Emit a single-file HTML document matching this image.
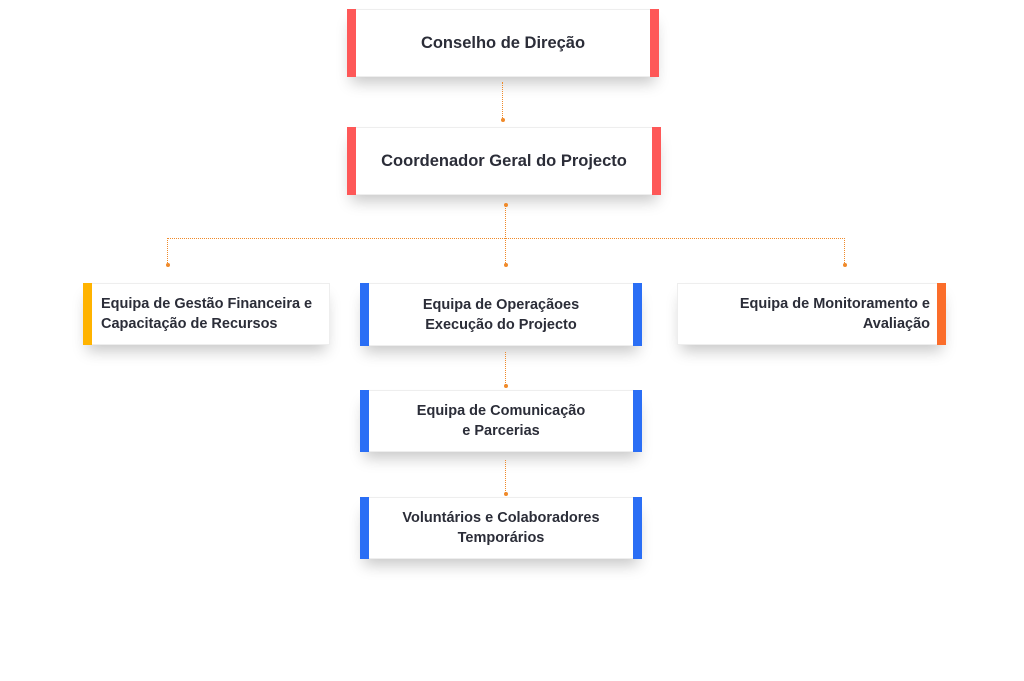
<!DOCTYPE html>
<html><head><meta charset="utf-8"><style>
body{margin:0;width:1024px;height:681px;background:#fff;position:relative;overflow:hidden;font-family:"Liberation Sans",sans-serif}
.b{position:absolute;background:#fff;box-shadow:0 10px 14px -4px rgba(0,0,0,0.22);border:1px solid #eee;box-sizing:border-box;display:flex;align-items:center;justify-content:center;text-align:center;color:#2b2d38;font-weight:bold;font-size:14.5px;line-height:20px}
.l,.r{position:absolute;top:-1px;bottom:-1px;width:9px}
.l{left:-1px}.r{right:-1px}
.red{background:#fe5858}.blue{background:#2a6ef5}
.v{position:absolute;border-left:1.5px dotted #f08a2a;width:0}
.h{position:absolute;border-top:1.5px dotted #f08a2a;height:0}
.d{position:absolute;width:4px;height:4px;border-radius:2px;background:#f08a2a}
</style></head><body>
<div class="b" style="left:347px;top:9px;width:312px;height:68px;font-size:16.5px"><div class="l red"></div><div class="r red"></div>Conselho de Direção</div>
<div class="b" style="left:347px;top:127px;width:314px;height:68px;font-size:16.5px"><div class="l red"></div><div class="r red"></div>Coordenador Geral do Projecto</div>
<div class="b" style="left:83px;top:283px;width:247px;height:62px;justify-content:flex-start;text-align:left;padding-left:17px"><div class="l" style="background:#ffb300"></div>Equipa de Gestão Financeira e<br>Capacitação de Recursos</div>
<div class="b" style="left:360px;top:283px;width:282px;height:63px"><div class="l blue"></div><div class="r blue"></div>Equipa de Operaçãoes<br>Execução do Projecto</div>
<div class="b" style="left:677px;top:283px;width:269px;height:62px;justify-content:flex-end;text-align:right;padding-right:15px"><div class="r" style="background:#fb6d2a"></div>Equipa de Monitoramento e<br>Avaliação</div>
<div class="b" style="left:360px;top:390px;width:282px;height:62px"><div class="l blue"></div><div class="r blue"></div>Equipa de Comunicação<br>e Parcerias</div>
<div class="b" style="left:360px;top:497px;width:282px;height:62px"><div class="l blue"></div><div class="r blue"></div>Voluntários e Colaboradores<br>Temporários</div>
<div class="v" style="left:502px;top:82px;height:38px"></div><div class="d" style="left:501px;top:118px"></div>
<div class="v" style="left:505px;top:205px;height:60px"></div><div class="d" style="left:504px;top:203px"></div><div class="d" style="left:504px;top:263px"></div>
<div class="h" style="left:167px;top:238px;width:678px"></div>
<div class="v" style="left:167px;top:238px;height:27px"></div><div class="d" style="left:166px;top:263px"></div>
<div class="v" style="left:844px;top:238px;height:27px"></div><div class="d" style="left:843px;top:263px"></div>
<div class="v" style="left:505px;top:352px;height:33px"></div><div class="d" style="left:504px;top:384px"></div>
<div class="v" style="left:505px;top:460px;height:33px"></div><div class="d" style="left:504px;top:492px"></div>
</body></html>
